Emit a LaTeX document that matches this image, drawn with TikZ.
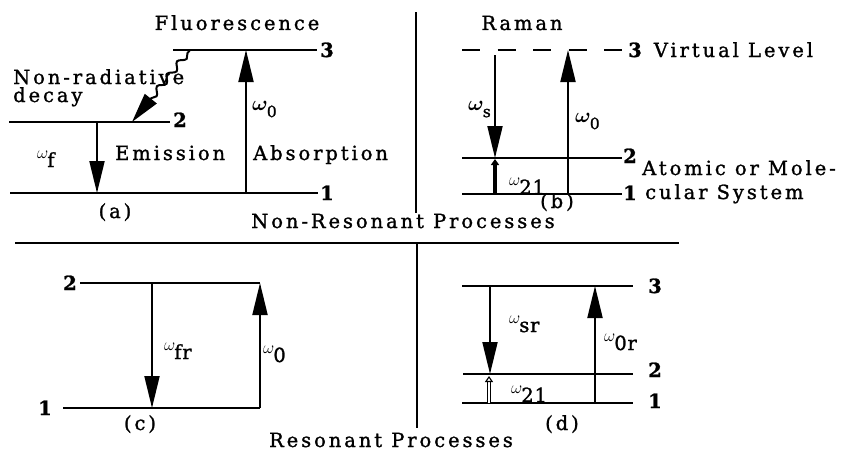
\documentclass[tikz,border=0pt]{standalone}
\usepackage{fontspec}
\setmainfont[LetterSpace=15, FakeBold=1.3]{DejaVu Serif}
\newfontfamily\subfont[LetterSpace=4, FakeBold=1.3]{DejaVu Serif}
\usetikzlibrary{arrows.meta,decorations.pathmorphing}
\newcommand{\ws}[1]{\raisebox{0.6ex}{\fontsize{17.28}{17}\selectfont$\omega$}\kern-1pt\raisebox{-0.2ex}{\subfont #1}}
\newcommand{\wb}[1]{{\boldmath\fontsize{20.74}{21}\selectfont$\omega$}\kern-1pt\raisebox{-0.7ex}{\fontsize{15.5}{15}\selectfont\subfont #1}}
\tikzset{
  lev/.style={line width=2.4pt},
  dlev/.style={line width=2.4pt, dash pattern=on 18pt off 17.5pt},
  tr/.style={line width=2pt, -{Triangle[length=32pt,width=15pt]}},
  divline/.style={line width=2pt},
  txt/.style={inner sep=0pt, font=\fontsize{19.5}{21}\selectfont, anchor=base west},
  ctxt/.style={inner sep=0pt, font=\fontsize{19.5}{21}\selectfont, anchor=base},
  wavy/.style={line width=2pt, decorate, decoration={snake, amplitude=3pt, segment length=16pt, pre length=4pt, post length=26pt}, -{Triangle[length=30pt,width=15pt]}}
}
\begin{document}
\begin{tikzpicture}[x=1pt,y=-1pt]
\useasboundingbox (0,0) rectangle (852,455);
% ---------- dividers
\coordinate (hL) at (15,243); \coordinate (hR) at (679,243);
\coordinate (vT) at (416,12); \coordinate (vM) at (416,213);
\coordinate (vB1) at (417,243); \coordinate (vB2) at (417,428);
\draw[divline] (hL) -- (hR);
\draw[divline] (vT) -- (vM);
\draw[divline] (vB1) -- (vB2);
\node[ctxt] (nonres) at (403,228) {Non-Resonant Processes};
\node[ctxt] (res) at (391,447) {Resonant Processes};
% ---------- panel (a)
\coordinate (a3L) at (173,50);  \coordinate (a3R) at (317,50);
\coordinate (a2L) at (9,122);   \coordinate (a2R) at (170,122);
\coordinate (a1L) at (10,193);  \coordinate (a1R) at (318,193);
\draw[lev] (a3L) -- (a3R);
\draw[lev] (a2L) -- (a2R);
\draw[lev] (a1L) -- (a1R);
\coordinate (aEt) at (97,122);  \coordinate (aEb) at (97,193);
\coordinate (aAb) at (246,193); \coordinate (aAt) at (246,50);
\coordinate (aWs) at (190,50);  \coordinate (aWe) at (132,122);
\draw[tr] (aEt) -- (aEb);
\draw[tr] (aAb) -- (aAt);
\draw[wavy] (aWs) -- (aWe);
\node[ctxt] (fluo) at (237,30) {Fluorescence};
\node[txt] (a3) at (320,57) {\textbf{3}};
\node[txt] (a2) at (173,127) {\textbf{2}};
\node[txt] (a1) at (320,200) {\textbf{1}};
\node[txt] (nrd1) at (13,84) {Non-radiative};
\node[txt] (nrd2) at (13,102) {decay};
\node[txt] (wf) at (37,165) {\ws{f}};
\node[txt] (emis) at (115,160) {Emission};
\node[txt] (abs) at (253,160) {Absorption};
\node[txt] (aw0) at (252,110) {\wb{0}};
\node[ctxt] (alab) at (115,218) {(a)};
% ---------- panel (b)
\coordinate (b3L) at (462,50);  \coordinate (b3R) at (622,50);
\coordinate (b2L) at (462,158); \coordinate (b2R) at (622,158);
\coordinate (b1L) at (462,194); \coordinate (b1R) at (622,194);
\draw[dlev] (b3L) -- (b3R);
\draw[lev] (b2L) -- (b2R);
\draw[lev] (b1L) -- (b1R);
\coordinate (bSt) at (495,55);  \coordinate (bSb) at (495,158);
\coordinate (bAb) at (568,194); \coordinate (bAt) at (568,50);
\coordinate (bRb) at (495,194); \coordinate (bRt) at (495,159);
\draw[tr] (bSt) -- (bSb);
\draw[tr] (bAb) -- (bAt);
\draw[line width=4.5pt, -{Triangle[length=6pt,width=8pt]}] (bRb) -- (bRt);
\node[ctxt] (raman) at (522,30) {Raman};
\node[txt] (b3) at (628,57) {\textbf{3} Virtual Level};
\node[txt] (b2) at (623,163) {\textbf{2}};
\node[txt] (b1) at (623,200) {\textbf{1}};
\node[txt] (atom1) at (642,175) {Atomic or Mole-};
\node[txt] (atom2) at (645,199) {cular System};
\node[txt] (bws) at (468,110) {\wb{s}};
\node[txt] (bw0) at (575,122) {\wb{0}};
\node[txt] (bw21) at (509,192) {\ws{21}};
\node[ctxt] (blab) at (557,208) {(b)};
% ---------- panel (c)
\coordinate (c2L) at (80,283);  \coordinate (c2R) at (260,283);
\coordinate (c1L) at (63,408);  \coordinate (c1R) at (260,408);
\draw[lev] (c2L) -- (c2R);
\draw[lev] (c1L) -- (c1R);
\coordinate (cFt) at (152,283); \coordinate (cFb) at (152,408);
\draw[tr] (cFt) -- (cFb);
\draw[tr] (c1R) -- (c2R);
\node[txt] (c2) at (63,290) {\textbf{2}};
\node[txt] (c1) at (38,415) {\textbf{1}};
\node[txt] (cwfr) at (164,357) {\ws{fr}};
\node[txt] (cw0) at (263,360) {\ws{0}};
\node[ctxt] (clab) at (140,430) {(c)};
% ---------- panel (d)
\coordinate (d3L) at (462,286); \coordinate (d3R) at (633,286);
\coordinate (d2L) at (463,374); \coordinate (d2R) at (633,374);
\coordinate (d1L) at (462,403); \coordinate (d1R) at (633,403);
\draw[lev] (d3L) -- (d3R);
\draw[lev] (d2L) -- (d2R);
\draw[lev] (d1L) -- (d1R);
\coordinate (dSt) at (490,286); \coordinate (dSb) at (490,374);
\coordinate (dAb) at (595,403); \coordinate (dAt) at (595,286);
\coordinate (dRb) at (489,403); \coordinate (dRt) at (489,376);
\draw[tr] (dSt) -- (dSb);
\draw[tr] (dAb) -- (dAt);
\draw[line width=1.1pt, double, double distance=2.2pt, -{Triangle[open,length=6pt,width=8pt]}] (dRb) -- (dRt);
\node[txt] (d3) at (648,293) {\textbf{3}};
\node[txt] (d2) at (648,377) {\textbf{2}};
\node[txt] (d1) at (648,408) {\textbf{1}};
\node[txt] (dwsr) at (509,330) {\ws{sr}};
\node[txt] (dw0r) at (604,348) {\ws{0r}};
\node[txt] (dw21) at (511,400) {\ws{21}};
\node[ctxt] (dlab) at (562,430) {(d)};
\end{tikzpicture}
\end{document}
